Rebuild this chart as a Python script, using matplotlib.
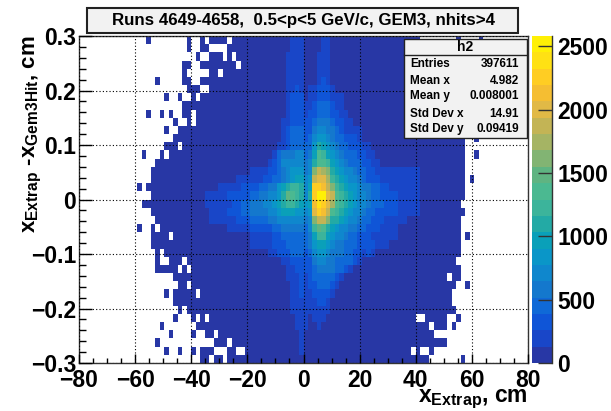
import matplotlib
matplotlib.use('Agg')
import matplotlib.pyplot as plt
from matplotlib.colors import ListedColormap, BoundaryNorm
from matplotlib.lines import Line2D
from matplotlib.patches import Rectangle
import numpy as np

plt.rcParams['font.family'] = ['Liberation Sans']
plt.rcParams['font.weight'] = 'bold'
plt.rcParams['mathtext.fontset'] = 'custom'
plt.rcParams['mathtext.rm'] = 'Liberation Sans:bold'
plt.rcParams['mathtext.bf'] = 'Liberation Sans:bold'
plt.rcParams['mathtext.default'] = 'rm'

n_xbins = 100
n_ybins = 40
z_max = 2580
z_step = z_max / 20

# filled x bins per row, top row first (first, last)
filled_bins = [
    [(15,15),(24,24),(27,27),(29,32),(34,75),(84,84),(89,89)],
    [(24,24),(27,28),(33,85)],
    [(26,26),(29,31),(33,33),(35,85)],
    [(23,24),(27,34),(36,85)],
    [(23,23),(29,30),(32,85)],
    [(17,17),(23,24),(27,85)],
    [(24,26),(29,85)],
    [(19,19),(22,22),(25,25),(27,85)],
    [(23,85)],
    [(15,15),(18,18),(20,20),(23,24),(26,85)],
    [(21,21),(24,24),(26,85)],
    [(19,19),(22,85)],
    [(21,85),(88,88)],
    [(19,21),(23,85)],
    [(14,14),(18,18),(20,85),(88,88)],
    [(17,85)],
    [(16,85)],
    [(16,85),(87,87)],
    [(13,13),(15,85)],
    [(16,85)],
    [(14,84)],
    [(16,85)],
    [(17,84)],
    [(13,13),(16,16),(18,84)],
    [(16,19),(21,84),(86,86)],
    [(16,84)],
    [(17,17),(19,84)],
    [(17,17),(20,22),(24,83)],
    [(17,21),(23,23),(25,84)],
    [(21,81),(83,84)],
    [(22,23),(25,83),(86,86)],
    [(19,19),(21,25),(27,82)],
    [(21,82)],
    [(22,22),(24,83)],
    [(21,21),(25,25),(27,27),(29,74),(77,81),(84,84)],
    [(18,18),(26,77),(79,81),(83,83)],
    [(20,20),(25,25),(28,29),(31,78)],
    [(17,17),(30,32),(34,80),(81,81)],
    [(19,19),(22,22),(25,25),(27,29),(33,34),(37,73),(75,75),(78,78)],
    [(27,28),(30,31),(33,77),(85,85)],
]

# colour level of the bins 28-79, top row first, 0-9 then a-j
core_first_bin = 28
core_levels = [
    "00000000 00000000000111 00 001100000000 0000000000000000",
    "00000000 00000000000111 00 001100000000 0000000000000000",
    "00000000 00000000001111 00 011100000000 0000000000000000",
    "00000000 00000000001111 00 011100000000 0000000000000000",
    "00000000 00000000001111 00 011100000000 0000000000000000",
    "00000000 00000000001111 00 012100000000 0000000000000000",
    "00000000 00000000001121 01 122210000000 0000000000000000",
    "00000000 00000000001222 01 122211100000 0000000000000000",
    "00000000 00000000001222 11 233321100000 0000000000000000",
    "00000000 00000000001222 12 233322110000 0000000000000000",
    "00000000 00000000011222 22 344432211000 0000000000000000",
    "00000000 00000000012333 22 455443211110 0000000000000000",
    "00000000 00000000012333 23 566543322210 0000000000000000",
    "00000000 00000000112333 33 687654332221 1000000000000000",
    "00000000 00000001344455 34 7a9765433322 1100000000000000",
    "00000000 00000012355555 45 8aa976543332 2110000000000000",
    "00000000 00111122345666 45 cedc87655433 2211111111110000",
    "00000001 11111223345677 56 effd98765543 2221111111110000",
    "00011111 22223344678998 57 hhgec9876654 4332211111110000",
    "11111222 2233445568ba98 58 hjjfea987655 4332222111110000",
    "11111122 33444556789987 67 gihfda987655 4333222111110000",
    "01111222 33444455677766 56 fhgea9876554 3322222111110000",
    "01111112 22333344555555 45 ceec88765543 3222111110000000",
    "00000111 11222223344444 35 9ba876554433 2221111000000000",
    "00000000 00111112233333 34 799765543322 2111111000000000",
    "00000000 00111112223333 34 677654433322 2211100000000000",
    "00000000 00000011222333 23 566544433221 2100000000000000",
    "00000000 00000000011222 22 455443333210 0000000000000000",
    "00000000 00000000001122 22 344443321000 0000000000000000",
    "00000000 00000000001112 12 333332100000 0000000000000000",
    "00000000 00000000000112 12 233321000000 0000000000000000",
    "00000000 00000000000112 11 222210000000 0000000000000000",
    "00000000 00000000000111 11 122100000000 0000000000000000",
    "00000000 00000000000111 11 111100000000 0000000000000000",
    "00000000 00000000000011 10 111000000000 0000000000000000",
    "00000000 00000000000011 10 010000000000 0000000000000000",
    "00000000 00000000000001 00 000000000000 0000000000000000",
    "00000000 00000000000001 00 000000000000 0000000000000000",
    "00000000 00000000000001 00 000000000000 0000000000000000",
    "00000000 00000000000000 00 000000000000 0000000000000000",
]

x_ticks = [-80, -60, -40, -20, 0, 20, 40, 60, 80]
y_ticks = [-0.3, -0.2, -0.1, 0, 0.1, 0.2, 0.3]
x_labels = ['\u221280', '\u221260', '\u221240', '\u221220', '0', '20', '40', '60', '80']
y_labels = ['\u22120.3', '\u22120.2', '\u22120.1', '0', '0.1', '0.2', '0.3']
z_ticks = [0, 500, 1000, 1500, 2000, 2500]

stat_names = ['Entries', 'Mean x', 'Mean y', 'Std Dev x', 'Std Dev y']
stat_values = ['397611', '4.982', '0.008001', '14.91', '0.09419']

# palette, lowest band first
palette = [
    (40,55,165), (25,70,200), (15,85,215), (15,105,215), (20,120,205),
    (15,135,205), (10,150,200), (10,160,185), (35,170,165), (60,180,155),
    (75,185,145), (95,180,130), (130,180,115), (165,180,100), (195,180,85),
    (225,185,70), (245,190,50), (255,205,35), (255,225,20), (255,240,5),
]
cmap = ListedColormap(np.array(palette) / 255.0)
cmap.set_bad('white')
norm = BoundaryNorm(np.arange(21) * z_step, 20)

counts = np.full((n_ybins, n_xbins), np.nan)
for j, spans in enumerate(filled_bins):
    levels = core_levels[j].replace(' ', '')
    for first, last in spans:
        for i in range(first, last + 1):
            k = i - core_first_bin
            lev = int(levels[k], 20) if 0 <= k < len(levels) else 0
            counts[n_ybins - 1 - j, i] = (lev + 0.5) * z_step

x_edges = np.linspace(-80, 80, n_xbins + 1)
y_edges = np.linspace(-0.3, 0.3, n_ybins + 1)

W, H = 611, 411
fig = plt.figure(figsize=(W / 100, H / 100), dpi=100)
ax = fig.add_axes([79 / W, (H - 363) / H, 449 / W, 327 / H])
mesh = ax.pcolormesh(x_edges, y_edges, np.ma.masked_invalid(counts), cmap=cmap, norm=norm)

ax.set_xlim(-80, 80)
ax.set_ylim(-0.3, 0.3)
ax.set_xticks(x_ticks)
ax.set_xticklabels(x_labels)
ax.set_yticks(y_ticks)
ax.set_yticklabels(y_labels)
ax.set_xticks(np.arange(-80, 81, 5), minor=True)
ax.set_yticks(np.arange(-0.3, 0.301, 0.02), minor=True)
ax.tick_params(axis='x', which='major', direction='in', length=6.5, width=1, labelsize=16.5, pad=4.2)
ax.tick_params(axis='x', which='minor', direction='in', length=3.5, width=1)
ax.tick_params(axis='y', which='major', direction='in', length=9.5, width=1, labelsize=16.5, pad=2)
ax.tick_params(axis='y', which='minor', direction='in', length=5, width=1)
ax.grid(True, which='major', color='black', linestyle=(0, (1, 2)), linewidth=0.8)
ax.set_axisbelow(False)
for s in ax.spines.values():
    s.set_linewidth(1.0)
    s.set_color('#333333')

# palette on the right
cax = fig.add_axes([532 / W, (H - 363) / H, 20 / W, 327 / H])
cb = fig.colorbar(mesh, cax=cax, ticks=z_ticks, spacing='proportional')
cb.outline.set_visible(False)
cax.minorticks_off()
cax.tick_params(direction='in', length=10, width=1, labelsize=16.5, pad=4, color='#333333')
cax.add_line(Line2D([1, 1], [0, 1], transform=cax.transAxes, color='#333333', lw=1, clip_on=False))

# title box
fig.add_artist(Rectangle((87 / W, (H - 33) / H), 431 / W, 25 / H, transform=fig.transFigure,
                         facecolor='#f2f2f2', edgecolor='#222222', linewidth=1.5))
fig.text(303 / W, (H - 20) / H, 'Runs 4649-4658,  0.5<p<5 GeV/c, GEM3, nhits>4',
         ha='center', va='center', fontsize=12.2)

# stats box
fig.add_artist(Rectangle((404 / W, (H - 138) / H), 123 / W, 99 / H, transform=fig.transFigure,
                         facecolor='#f2f2f2', edgecolor='#222222', linewidth=1, zorder=5))
fig.add_artist(Line2D([404 / W, 527 / W], [(H - 55) / H] * 2, color='#222222', lw=1, zorder=6))
fig.text(465 / W, (H - 47) / H, 'h2', ha='center', va='center', fontsize=10, zorder=6)
stat_y = [64, 81, 96, 114, 129]
for name, val, yy in zip(stat_names, stat_values, stat_y):
    fig.text(410 / W, (H - yy) / H, name, ha='left', va='center', fontsize=8.5, zorder=6)
    fig.text(519 / W, (H - yy) / H, val, ha='right', va='center', fontsize=8.5, zorder=6)

# axis titles
fig.text(528 / W, (H - 399) / H, r'$x_{Extrap}$, cm', ha='right', va='center', fontsize=16.5)
fig.text(33 / W, (H - 35) / H, r'$x_{Extrap}$ -$x_{Gem3Hit}$, cm',
         rotation=90, ha='center', va='top', fontsize=16)

fig.savefig('out.png', dpi=100)
